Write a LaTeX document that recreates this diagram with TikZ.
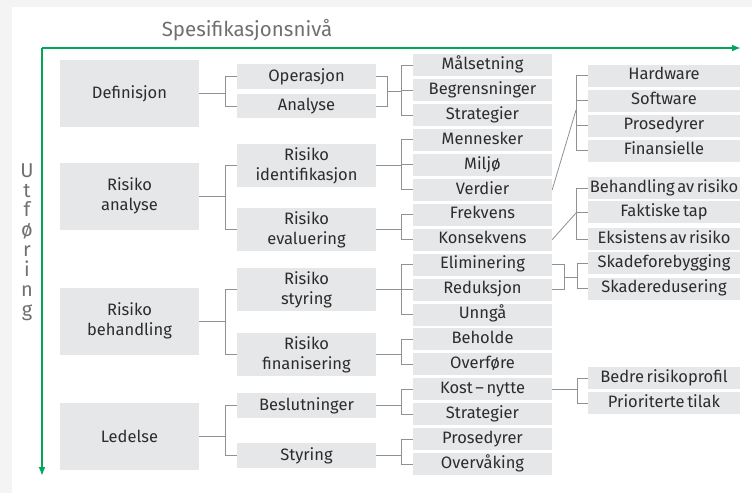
\documentclass[tikz,border=0pt]{standalone}
\usepackage{fontspec}
\setmainfont{Fira Sans}[WordSpace=0.6]
\usepackage{tikz}
\usetikzlibrary{arrows.meta,calc,positioning}
\definecolor{boksGra}{RGB}{230,231,232}
\definecolor{linjeGra}{RGB}{145,145,145}
\definecolor{tekstGra}{RGB}{45,43,45}
\definecolor{titelGra}{RGB}{112,112,115}
\definecolor{groenn}{RGB}{0,166,90}
\definecolor{bakgrunn}{RGB}{244,244,244}
\tikzstyle{boks}  =[fill=boksGra, text=tekstGra, inner sep=0pt,
                    align=center, font=\fontsize{16.5}{20}\selectfont]
\tikzstyle{hoved} =[boks, minimum width=139pt, minimum height=67pt]
\tikzstyle{del}   =[boks, minimum width=139pt]
\tikzstyle{blad}  =[boks, minimum width=139pt, minimum height=22pt,
                    text height=12pt, text depth=3.5pt]
\tikzstyle{ytre}  =[boks, minimum width=152pt, minimum height=22pt,
                    text height=12pt, text depth=3.5pt]
\tikzstyle{edge}  =[draw=linjeGra, line width=0.8pt]
\tikzstyle{akse}  =[draw=groenn, line width=2pt,
                    -{Latex[length=9pt,width=7pt]}]

\begin{document}
\begin{tikzpicture}[x=1pt,y=-1pt]
    \useasboundingbox (0,0) rectangle (752,493);
    \fill[bakgrunn] (0,0) rectangle (752,493);
    \fill[white] (12,7) rectangle (752,493);

    \coordinate (o) at (42,48);
    \coordinate (xe) at (741,48);
    \coordinate (ye) at (42,476);
    \draw[akse] (o) -- (xe);
    \draw[akse] (o) -- (ye);
    \node (tittel) [text=titelGra, font=\fontsize{20.5}{24}\selectfont] at (247,30) {Spesifikasjonsnivå};
    \node (utf) [text=titelGra, align=center, font=\fontsize{20}{19.9}\selectfont] at (27,242)
        {U\\t\\f\\ø\\r\\i\\n\\g};

    \node (d)  [hoved] at (129.5,93.5) {Definisjon};
    \node (ra) [hoved] at (129.5,196)  {Risiko\\analyse};
    \node (rb) [hoved] at (129.5,321)  {Risiko\\behandling};
    \node (le) [hoved] at (129.5,436)  {Ledelse};

    \node (op) [del, minimum height=25pt] at (306.5,76.5)  {Operasjon};
    \node (an) [del, minimum height=24pt] at (306.5,106)   {Analyse};
    \node (ri) [del, minimum height=43pt] at (306.5,165.5) {Risiko\\identifikasjon};
    \node (re) [del, minimum height=43pt] at (306.5,229.5) {Risiko\\evaluering};
    \node (rs) [del, minimum height=43pt] at (306.5,289.5) {Risiko\\styring};
    \node (rf) [del, minimum height=43pt] at (306.5,354.5) {Risiko\\finanisering};
    \node (bs) [del, minimum height=25pt] at (306.5,405.5) {Beslutninger};
    \node (sy) [del, minimum height=25pt] at (306.5,455.5) {Styring};

    \foreach \t [count=\i from 0] in {Målsetning,Begrensninger,Strategier,Mennesker,Miljø,Verdier,
        Frekvens,Konsekvens,Eliminering,Reduksjon,Unngå,Beholde,Overføre,Kost – nytte,
        Strategier,Prosedyrer,Overvåking}
        \node (t\i) [blad] at (482.5,{65+24.95*\i}) {\t};

    \foreach \i/\y/\t in {h1/75.5/Hardware,h2/100.5/Software,h3/125.5/Prosedyrer,h4/150.5/Finansielle,
        b1/188/Behandling av risiko,b2/212/Faktiske tap,b3/239/Eksistens av risiko,
        s1/263/Skadeforebygging,s2/288.5/Skaderedusering,
        p1/378/Bedre risikoprofil,p2/403/Prioriterte tilak}
        \node (\i) [ytre] at (664,\y) {\t};

    \foreach \i/\j in {d/op,d/an,ra/ri,ra/re,rb/rs,rb/rf,le/bs,le/sy}
        \draw [edge] (\i.east) -- ++(26,0) |- (\j.west);

    \foreach \i/\j in {ri/t3,ri/t4,ri/t5,re/t6,re/t7,rs/t8,rs/t9,rs/t10,
                       rf/t11,rf/t12,bs/t13,bs/t14,sy/t15,sy/t16,t13/p1,t13/p2}
        \draw [edge] (\i.east) -- ++(25,0) |- (\j.west);

    \coordinate (k1) at ($(op.east)!0.5!(an.east)+(11,0)$);
    \draw [edge] (op.east) -| (k1) |- (an.east);
    \foreach \j in {t0,t1,t2}
        \draw [edge] (k1) -- ++(14,0) |- (\j.west);

    \coordinate (k2) at ($(t8.east)!0.5!(t9.east)+(12,0)$);
    \draw [edge] (t8.east) -| (k2) |- (t9.east);
    \foreach \j in {s1,s2}
        \draw [edge] (k2) -- ++(13,0) |- (\j.west);

    \coordinate (k3) at (576,110);
    \draw [edge] (t5.east) -- (k3);
    \foreach \j in {h1,h2,h3,h4}
        \draw [edge] (k3) |- (\j.west);

    \coordinate (k4) at (576,213);
    \draw [edge] (t7.east) -- (k4);
    \foreach \j in {b1,b2,b3}
        \draw [edge] (k4) |- (\j.west);
\end{tikzpicture}
\end{document}
